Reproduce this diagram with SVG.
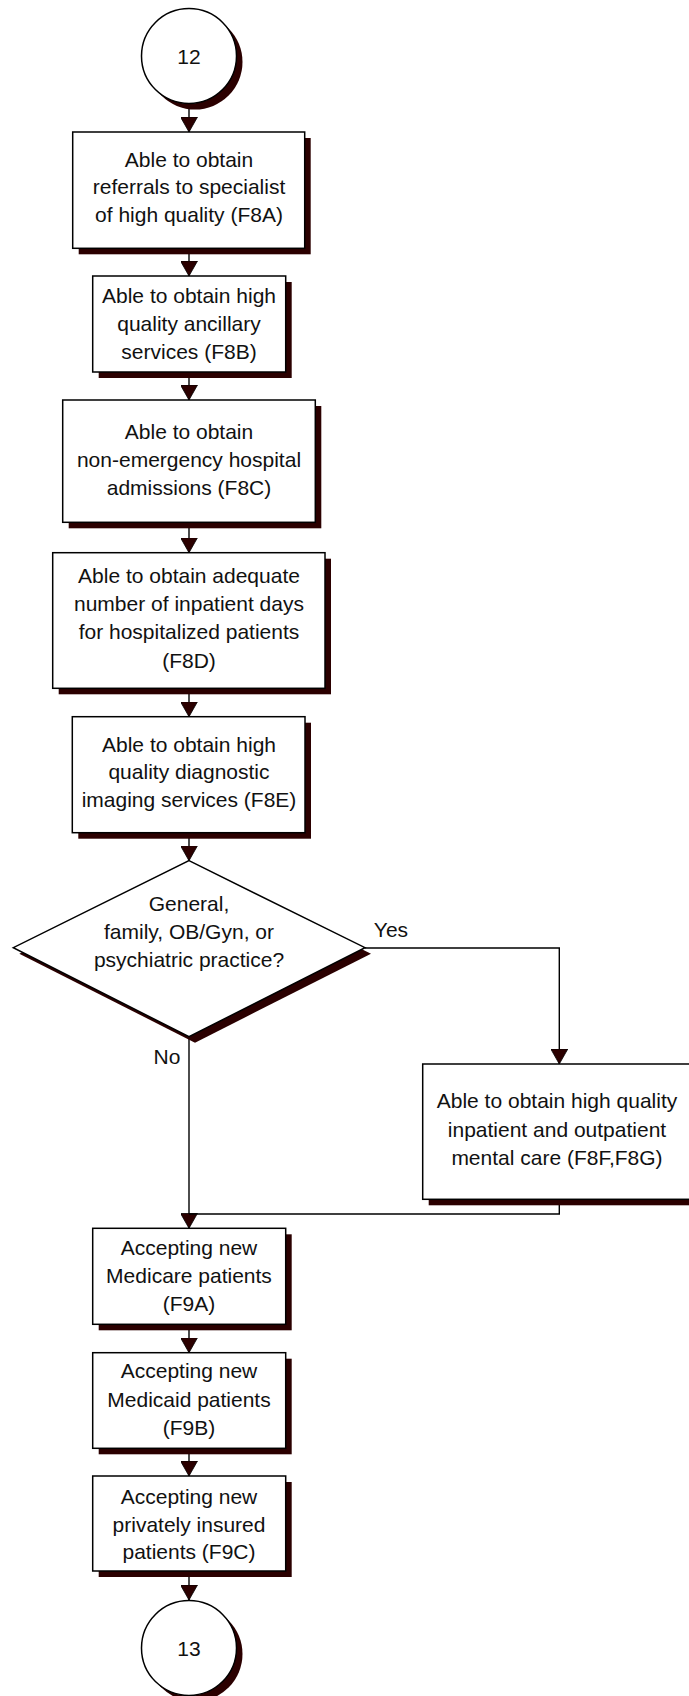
<svg xmlns="http://www.w3.org/2000/svg" width="689" height="1696" viewBox="0 0 689 1696">
  <style>
    .box { fill: #ffffff; stroke: #000000; stroke-width: 1.5; }
    .shadow { fill: #2b0000; stroke: none; }
    .lbl { font-family: "Liberation Sans", Arial, sans-serif; font-size: 21px; fill: #111111; text-anchor: middle; }
    .edge { fill: none; stroke: #000000; stroke-width: 1.4; }
  </style>
  <defs>
    <marker id="arrow" markerUnits="userSpaceOnUse" viewBox="0 0 15 17" refX="15" refY="8.5" markerWidth="15" markerHeight="17" orient="auto">
      <path d="M0,0 L15,8.5 L0,17 z" fill="#2b0000" stroke="#000000" stroke-width="0.8"/>
    </marker>
  </defs>

  <rect width="689" height="1696" fill="#ffffff"/>

  <!-- connectors -->
  <g id="connectors">
    <path class="edge" d="M189,103 V132" marker-end="url(#arrow)"/>
    <path class="edge" d="M189,248 V276" marker-end="url(#arrow)"/>
    <path class="edge" d="M189,372 V400" marker-end="url(#arrow)"/>
    <path class="edge" d="M189,522 V552.7" marker-end="url(#arrow)"/>
    <path class="edge" d="M189,688 V716.7" marker-end="url(#arrow)"/>
    <path class="edge" d="M189,833 V860.7" marker-end="url(#arrow)"/>
    <path class="edge" d="M365,948 H559.3 V1064" marker-end="url(#arrow)"/>
    <path class="edge" d="M189,1037 V1228.3" marker-end="url(#arrow)"/>
    <path class="edge" d="M559.3,1199 V1214 H189"/>
    <path class="edge" d="M189,1324 V1352.7" marker-end="url(#arrow)"/>
    <path class="edge" d="M189,1448 V1476" marker-end="url(#arrow)"/>
    <path class="edge" d="M189,1571 V1600" marker-end="url(#arrow)"/>
    <text class="lbl" x="391" y="937">Yes</text>
    <text class="lbl" x="167" y="1064">No</text>
  </g>

  <!-- off-page connector 12 -->
  <g id="conn12">
    <circle class="shadow" cx="195" cy="62" r="47.5"/>
    <circle class="box" cx="189" cy="56" r="47.5"/>
    <text class="lbl" x="189" y="63.5">12</text>
  </g>

  <g id="f8a">
    <rect class="shadow" x="78.7" y="138" width="232" height="116.3"/>
    <rect class="box" x="72.7" y="132" width="232" height="116.3"/>
    <text class="lbl" x="189" y="166.7">Able to obtain</text>
    <text class="lbl" x="189" y="194.3">referrals to specialist</text>
    <text class="lbl" x="189" y="222.3">of high quality (F8A)</text>
  </g>

  <g id="f8b">
    <rect class="shadow" x="98.7" y="282" width="193" height="96"/>
    <rect class="box" x="92.7" y="276" width="193" height="96"/>
    <text class="lbl" x="189" y="303">Able to obtain high</text>
    <text class="lbl" x="189" y="331">quality ancillary</text>
    <text class="lbl" x="189" y="359">services (F8B)</text>
  </g>

  <g id="f8c">
    <rect class="shadow" x="68.7" y="406" width="252.6" height="122.3"/>
    <rect class="box" x="62.7" y="400" width="252.6" height="122.3"/>
    <text class="lbl" x="189" y="439.3">Able to obtain</text>
    <text class="lbl" x="189" y="467">non-emergency hospital</text>
    <text class="lbl" x="189" y="495">admissions (F8C)</text>
  </g>

  <g id="f8d">
    <rect class="shadow" x="58.7" y="558.7" width="272.3" height="135.6"/>
    <rect class="box" x="52.7" y="552.7" width="272.3" height="135.6"/>
    <text class="lbl" x="189" y="583.3">Able to obtain adequate</text>
    <text class="lbl" x="189" y="611">number of inpatient days</text>
    <text class="lbl" x="189" y="639.3">for hospitalized patients</text>
    <text class="lbl" x="189" y="667.5">(F8D)</text>
  </g>

  <g id="f8e">
    <rect class="shadow" x="78.3" y="722.7" width="232.7" height="116"/>
    <rect class="box" x="72.3" y="716.7" width="232.7" height="116"/>
    <text class="lbl" x="189" y="751.7">Able to obtain high</text>
    <text class="lbl" x="189" y="779.3">quality diagnostic</text>
    <text class="lbl" x="189" y="806.7">imaging services (F8E)</text>
  </g>

  <!-- decision -->
  <g id="decision">
    <polygon class="shadow" points="195,866.7 371,953.7 195,1042.7 19.3,953.7"/>
    <polygon class="box" points="189,860.7 365,947.7 189,1036.7 13.3,947.7"/>
    <text class="lbl" x="189" y="910.7">General,</text>
    <text class="lbl" x="189" y="939">family, OB/Gyn, or</text>
    <text class="lbl" x="189" y="967.3">psychiatric practice?</text>
  </g>

  <g id="f8fg">
    <rect class="shadow" x="428.7" y="1070" width="273" height="135.3"/>
    <rect class="box" x="422.7" y="1064" width="273" height="135.3"/>
    <text class="lbl" x="557" y="1108.3">Able to obtain high quality</text>
    <text class="lbl" x="557" y="1136.7">inpatient and outpatient</text>
    <text class="lbl" x="557" y="1165">mental care (F8F,F8G)</text>
  </g>

  <g id="f9a">
    <rect class="shadow" x="98.7" y="1234.3" width="193" height="96"/>
    <rect class="box" x="92.7" y="1228.3" width="193" height="96"/>
    <text class="lbl" x="189" y="1255">Accepting new</text>
    <text class="lbl" x="189" y="1282.7">Medicare patients</text>
    <text class="lbl" x="189" y="1310.5">(F9A)</text>
  </g>

  <g id="f9b">
    <rect class="shadow" x="98.7" y="1358.7" width="193" height="95.6"/>
    <rect class="box" x="92.7" y="1352.7" width="193" height="95.6"/>
    <text class="lbl" x="189" y="1378">Accepting new</text>
    <text class="lbl" x="189" y="1406.5">Medicaid patients</text>
    <text class="lbl" x="189" y="1434.5">(F9B)</text>
  </g>

  <g id="f9c">
    <rect class="shadow" x="98.7" y="1482" width="193" height="95"/>
    <rect class="box" x="92.7" y="1476" width="193" height="95"/>
    <text class="lbl" x="189" y="1504">Accepting new</text>
    <text class="lbl" x="189" y="1531.7">privately insured</text>
    <text class="lbl" x="189" y="1559.3">patients (F9C)</text>
  </g>

  <!-- off-page connector 13 -->
  <g id="conn13">
    <circle class="shadow" cx="195" cy="1654" r="47.5"/>
    <circle class="box" cx="189" cy="1648" r="47.5"/>
    <text class="lbl" x="189" y="1655.5">13</text>
  </g>
</svg>
